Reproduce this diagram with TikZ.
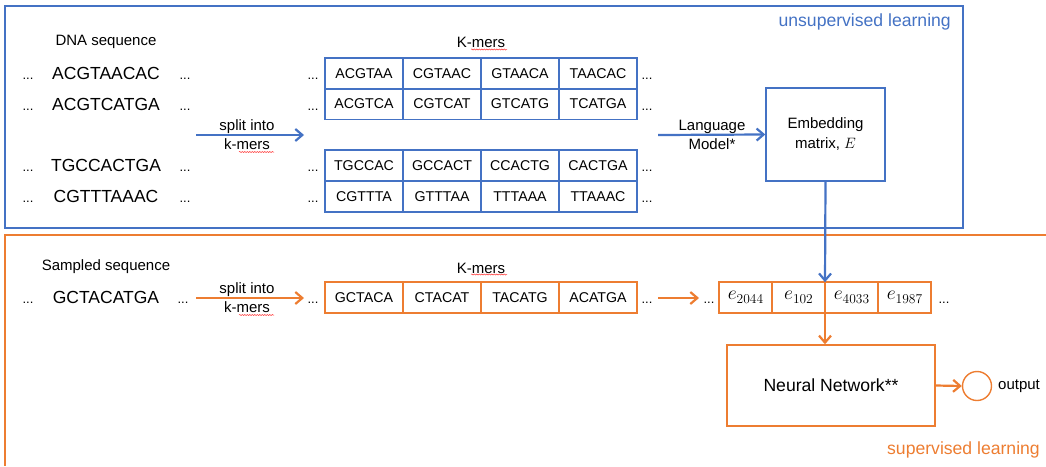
\documentclass[tikz,border=0pt]{standalone}
\usepackage{fix-cm}
\usepackage{fontspec}
\setmainfont{Liberation Sans}
\usetikzlibrary{arrows.meta,decorations.pathmorphing}
\definecolor{ublue}{HTML}{4472C4}
\definecolor{sorange}{HTML}{ED7D31}
\newcommand{\esub}[1]{$e$\raisebox{-3.5pt}{\fontsize{13.5}{13}\selectfont$#1$}}
\begin{document}
\begin{tikzpicture}[x=1pt,y=-1pt,
  txt/.style={inner sep=0, font=\fontsize{15}{19}\selectfont, align=center},
  seq/.style={inner sep=0, font=\fontsize{17.5}{20}\selectfont},
  dots/.style={inner sep=0, anchor=base, font=\fontsize{13}{15}\selectfont},
  cell/.style={draw, minimum width=78pt, minimum height=30.7pt, inner sep=0, outer sep=0, line width=1.4pt, text=black, font=\fontsize{14.2}{16}\selectfont},
  ecell/.style={cell, minimum width=53pt, font=\fontsize{19.5}{20}\selectfont},
  frame/.style={line width=1.4pt},
  arr/.style={-{Straight Barb[length=7pt,width=12pt]}},
  squig/.style={red!80, line width=0.5pt, decorate, decoration={snake, amplitude=0.6pt, segment length=2.5pt}},
  title/.style={inner sep=0, font=\fontsize{17.6}{20}\selectfont}
]
\useasboundingbox (0,0) rectangle (1046,466);
% frames
\draw[frame, ublue] (5,6) rectangle (963,228);
\draw[frame, sorange] (1046,235) -- (5,235) -- (5,466);
\node[title, text=ublue, anchor=east] (ul) at (951,22) {unsupervised learning};
\node[title, text=sorange, anchor=east] (sl) at (1040,450) {supervised learning};

% ---------- unsupervised part ----------
\node[txt] (dnah) at (106,42) {DNA sequence};
\node[txt] (kh1) at (481,42) {K-mers};
\draw[squig] (471,49.5) -- (507,49.5);
\foreach \r/\y/\s in {1/73.5/ACGTAACAC, 2/104/ACGTCATGA, 3/165.5/TGCCACTGA, 4/196.5/CGTTTAAAC} {
  \node[seq] (s\r) at (106,\y) {\s};
  \node[dots] (dl\r) at (28,\y+6) {...};
  \node[dots] (dr\r) at (185,\y+6) {...};
  \node[dots] (kl\r) at (313,\y+6) {...};
  \node[dots] (kr\r) at (647,\y+6) {...};
}
\foreach \r/\y/\a/\b/\c/\d in {1/73.5/ACGTAA/CGTAAC/GTAACA/TAACAC,
                              2/104/ACGTCA/CGTCAT/GTCATG/TCATGA,
                              3/165.5/TGCCAC/GCCACT/CCACTG/CACTGA,
                              4/196.5/CGTTTA/GTTTAA/TTTAAA/TTAAAC} {
  \node[cell, draw=ublue] (k\r-1) at (364,\y) {\a};
  \node[cell, draw=ublue] (k\r-2) at (442,\y) {\b};
  \node[cell, draw=ublue] (k\r-3) at (520,\y) {\c};
  \node[cell, draw=ublue] (k\r-4) at (598,\y) {\d};
}
\coordinate (sa1) at (196,135);
\coordinate (sb1) at (304,135);
\draw[arr, ublue, line width=2.2pt] (sa1) -- (sb1);
\node[txt] (split1) at (247,134.5) {split into\\k-mers};
\draw[squig] (239,152) -- (274,152);

\node[draw=ublue, line width=1.4pt, minimum width=119pt, minimum height=93pt, inner sep=0,
      align=center, font=\fontsize{15}{20}\selectfont] (emb) at (825.5,134.5) {Embedding\\matrix, $E$};
\coordinate (lma) at (658,135);
\draw[arr, ublue, line width=2.2pt] (lma) -- (emb.west);
\node[txt] (lm) at (712,134.5) {Language\\Model*};

% ---------- supervised part ----------
\node[txt] (samh) at (106,267) {Sampled sequence};
\node[txt] (kh2) at (481,268) {K-mers};
\draw[squig] (471,274.5) -- (507,274.5);
\node[seq] (gs) at (106,297.5) {GCTACATGA};
\node[dots] (gdl) at (28,303.5) {...};
\node[dots] (gdr) at (183,303.5) {...};
\node[dots] (gkl) at (313,303.5) {...};
\node[dots] (gkr) at (647,303.5) {...};
\node[cell, draw=sorange] (g1) at (364,297.5) {GCTACA};
\node[cell, draw=sorange] (g2) at (442,297.5) {CTACAT};
\node[cell, draw=sorange] (g3) at (520,297.5) {TACATG};
\node[cell, draw=sorange] (g4) at (598,297.5) {ACATGA};
\coordinate (sa2) at (196,298);
\coordinate (sb2) at (304,298);
\draw[arr, sorange, line width=2.2pt] (sa2) -- (sb2);
\node[txt] (split2) at (247,297.5) {split into\\k-mers};
\draw[squig] (239,315) -- (274,315);

\coordinate (oa) at (658,298);
\coordinate (ob) at (699,298);
\draw[arr, sorange, line width=2.2pt] (oa) -- (ob);
\node[dots] (edl) at (709,303.5) {...};
\node[ecell, draw=sorange] (e1) at (745.5,297.5) {\esub{2044}};
\node[ecell, draw=sorange] (e2) at (798.5,297.5) {\esub{102}};
\node[ecell, draw=sorange] (e3) at (851.5,297.5) {\esub{4033}};
\node[ecell, draw=sorange] (e4) at (904.5,297.5) {\esub{1987}};
\node[dots] (edr) at (944,303.5) {...};

\draw[arr, ublue, line width=2.2pt] (emb.south) -- (e2.north east);

\node[draw=sorange, line width=1.4pt, minimum width=208pt, minimum height=81pt, inner sep=0,
      font=\fontsize{17.6}{20}\selectfont] (nn) at (831,385.5) {Neural Network**};
\draw[arr, sorange, line width=2.2pt] (e2.south east) -- (e2.south east |- nn.north);

\node[draw=sorange, line width=1.4pt, circle, minimum size=29pt, inner sep=0] (out) at (977,386) {};
\draw[arr, sorange, line width=2.2pt] (nn.east) -- (out.west);
\node[txt, anchor=west] (outl) at (998,386) {output};
\end{tikzpicture}
\end{document}
